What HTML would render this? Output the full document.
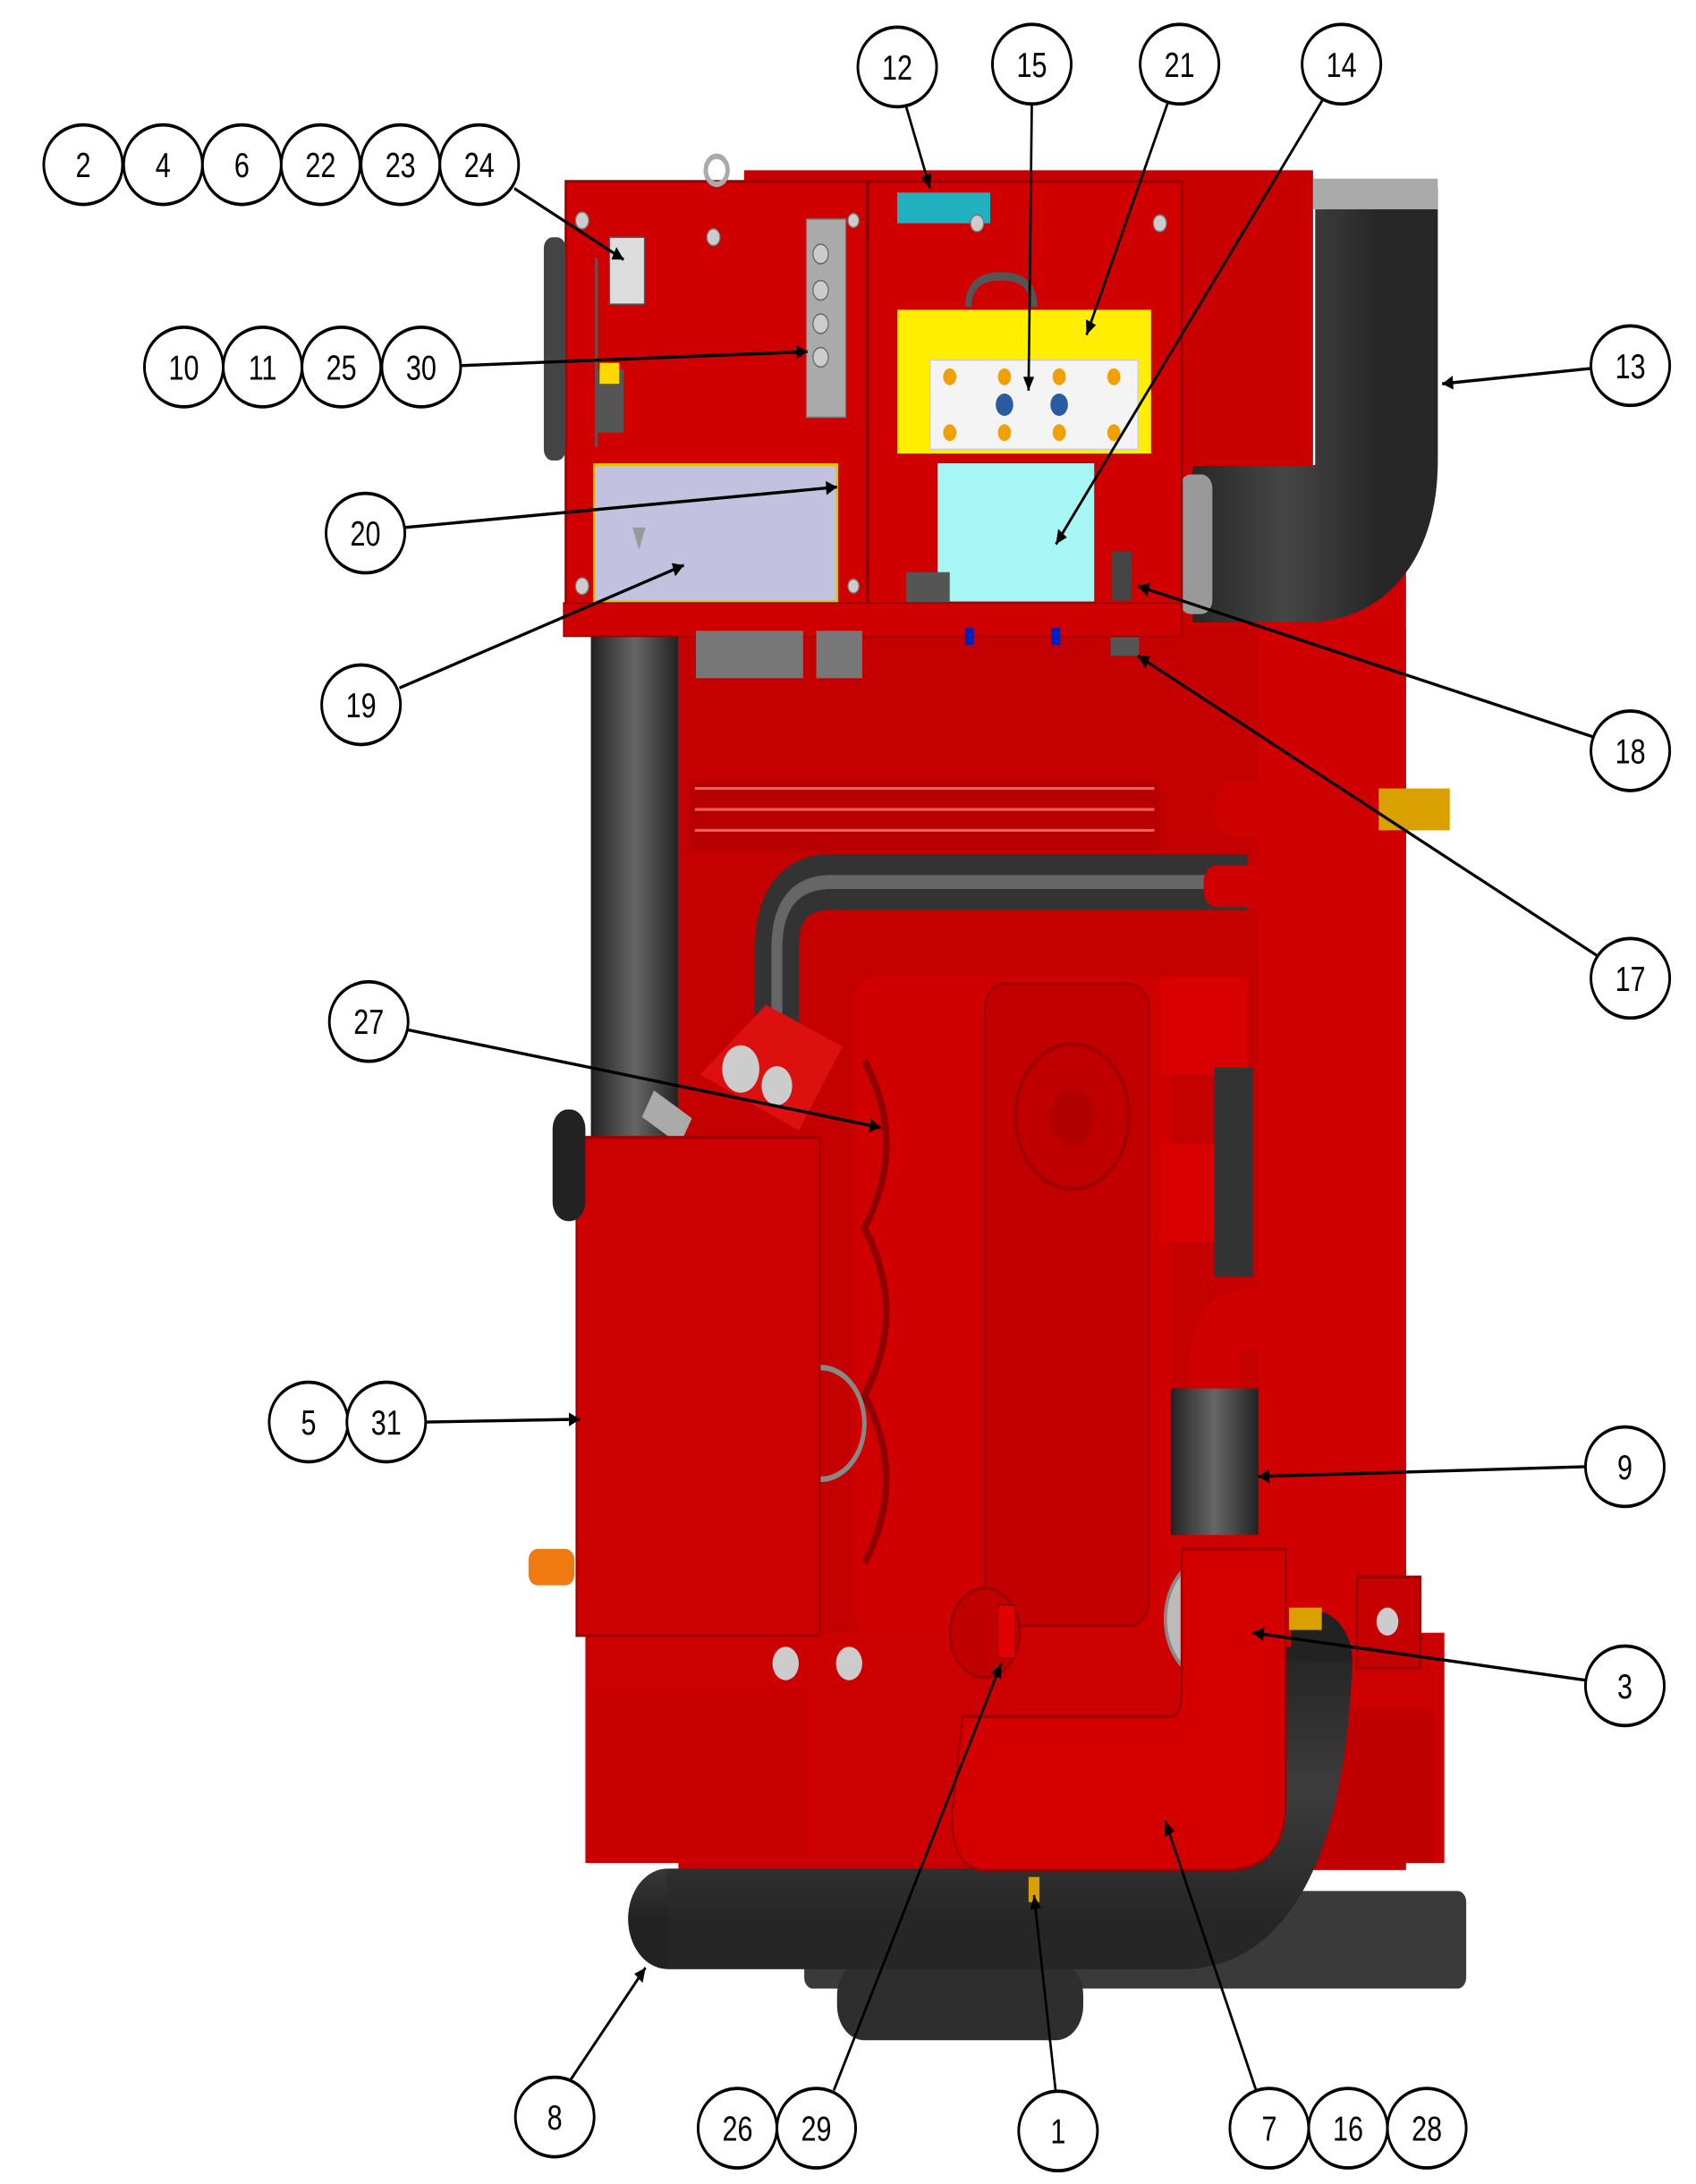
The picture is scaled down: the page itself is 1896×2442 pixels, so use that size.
<!DOCTYPE html>
<html><head><meta charset="utf-8"><style>
html,body{margin:0;padding:0;background:#fff;}
svg{display:block;}
text{font-family:"Liberation Sans",sans-serif;font-size:25px;fill:#000;text-anchor:middle;}
</style></head><body>
<svg width="1896" height="2442" viewBox="0 0 1550 1565" preserveAspectRatio="none" xmlns="http://www.w3.org/2000/svg">
<defs>
<marker id="ar" viewBox="0 0 10 10" refX="10" refY="5" markerWidth="14" markerHeight="10" orient="auto" markerUnits="userSpaceOnUse"><path d="M0,0 L10,5 L0,10 z" fill="#000"/></marker>
<linearGradient id="hose" x1="0" x2="1"><stop offset="0" stop-color="#222"/><stop offset="0.5" stop-color="#666"/><stop offset="1" stop-color="#222"/></linearGradient>
<linearGradient id="hoseV" x1="0" x2="0" y1="0" y2="1"><stop offset="0" stop-color="#222"/><stop offset="0.5" stop-color="#5a5a5a"/><stop offset="1" stop-color="#222"/></linearGradient>
</defs>

<!-- background red masses -->
<rect x="680" y="122" width="520" height="330" fill="#c80000"/>
<rect x="620" y="450" width="665" height="890" fill="#c40000"/>
<rect x="1150" y="380" width="135" height="790" rx="30" fill="#d10000"/>
<rect x="535" y="1170" width="785" height="165" fill="#cc0000"/>
<rect x="1200" y="1225" width="110" height="110" fill="#c00000"/>
<rect x="630" y="560" width="430" height="50" fill="#b80000"/>
<path d="M635,565 h420 M635,580 h420 M635,595 h420" stroke="#f06060" stroke-width="2"/>

<!-- bottom dark pieces -->
<rect x="735" y="1355" width="605" height="70" rx="8" fill="#3a3a3a"/>
<rect x="765" y="1405" width="225" height="57" rx="25" fill="#2e2e2e"/>
<path d="M610,1375 H1080 Q1190,1375 1200,1190" fill="none" stroke="url(#hoseV)" stroke-width="72" stroke-linecap="round"/>
<path d="M610,1375 H1080 Q1190,1375 1200,1190" fill="none" stroke="#2a2a2a" stroke-width="72" opacity="0.6"/>

<!-- left vertical hose -->
<rect x="540" y="450" width="80" height="365" fill="url(#hose)"/>
<!-- upper loop hose -->
<path d="M710,760 V680 Q710,632 760,632 H1140" fill="none" stroke="#333" stroke-width="40"/>
<path d="M710,760 V680 Q710,632 760,632 H1140" fill="none" stroke="#666" stroke-width="10"/>
<rect x="1100" y="620" width="68" height="30" rx="12" fill="#d00000"/>

<!-- engine block details -->
<rect x="780" y="700" width="290" height="470" rx="20" fill="#d00000"/>
<rect x="900" y="705" width="150" height="460" rx="18" fill="#c20000" stroke="#a00000" stroke-width="2"/>
<circle cx="980" cy="800" r="52" fill="#c00000" stroke="#a00000" stroke-width="3"/>
<circle cx="980" cy="800" r="20" fill="#b00000"/>
<path d="M1060,700 h80 v70 h-80z M1060,820 h80 v70 h-80z" fill="#d80000"/>
<path d="M790,760 q40,60 0,120 q40,60 0,120 q40,60 0,120" fill="none" stroke="#900000" stroke-width="6"/>
<path d="M640,770 l60,-50 l70,30 l-40,60 z" fill="#dd1010"/>
<circle cx="677" cy="766" r="17" fill="#ccc"/><circle cx="710" cy="778" r="14" fill="#ccc"/>
<rect x="590" y="790" width="40" height="22" fill="#aaa" transform="rotate(30 610 800)"/>
<rect x="1110" y="765" width="35" height="150" fill="#333"/>

<!-- hose 9 and elbow -->
<path d="M1110,1000 V975 Q1110,945 1150,945 H1185" fill="none" stroke="#d00000" stroke-width="45"/>
<rect x="1070" y="995" width="80" height="105" fill="url(#hose)"/>
<rect x="1070" y="1100" width="110" height="80" fill="#d00000"/>
<circle cx="1110" cy="1160" r="45" fill="#bbb" stroke="#888" stroke-width="3"/>
<circle cx="1110" cy="1160" r="22" fill="#ddd" stroke="#999" stroke-width="2"/>
<rect x="1178" y="1152" width="30" height="16" fill="#d9a000"/>
<rect x="1240" y="1130" width="58" height="65" fill="#c60000" stroke="#900" stroke-width="2"/>
<circle cx="1268" cy="1162" r="10" fill="#ccc"/>
<!-- cover 7 -->
<path d="M880,1230 H1070 Q1080,1230 1080,1210 V1110 H1175 V1290 Q1175,1340 1120,1340 H900 Q870,1340 870,1300 Z" fill="#d40000" stroke="#a00000" stroke-width="2"/>
<circle cx="900" cy="1170" r="32" fill="#c00000" stroke="#900" stroke-width="2"/>
<rect x="912" y="1150" width="16" height="38" fill="#e00000" stroke="#800" stroke-width="1"/>
<rect x="940" y="1345" width="10" height="18" fill="#d9a000"/>

<!-- exhaust box 5 -->
<rect x="527" y="815" width="222" height="357" fill="#cc0000" stroke="#a00000" stroke-width="2"/>
<rect x="505" y="795" width="30" height="80" rx="14" fill="#222"/>
<rect x="483" y="1110" width="42" height="26" rx="8" fill="#f07a10"/>
<rect x="540" y="1210" width="200" height="120" fill="#c80000"/>
<circle cx="718" cy="1192" r="12" fill="#ccc"/><circle cx="776" cy="1192" r="12" fill="#ccc"/>
<path d="M750,980 a40,40 0 0,1 40,40 a40,40 0 0,1 -40,40" fill="none" stroke="#888" stroke-width="4"/>

<!-- right big hose 13 -->
<path d="M1258,135 V330 Q1258,390 1190,390 H1090" fill="none" stroke="url(#hose)" stroke-width="112"/>
<path d="M1258,135 V330 Q1258,390 1190,390 H1090" fill="none" stroke="#2b2b2b" stroke-width="112" opacity="0.55"/>
<rect x="1200" y="128" width="114" height="22" fill="#aaa"/>
<rect x="1078" y="340" width="30" height="100" rx="10" fill="#999"/>
<rect x="1260" y="565" width="65" height="30" fill="#d9a000"/>
<rect x="1110" y="560" width="150" height="40" rx="18" fill="#cf0000"/>

<!-- control box -->
<rect x="517" y="130" width="563" height="325" fill="#d00000" stroke="#900" stroke-width="2"/>
<line x1="793" y1="130" x2="793" y2="432" stroke="#800" stroke-width="3"/>
<line x1="545" y1="185" x2="545" y2="320" stroke="#555" stroke-width="3"/>
<rect x="497" y="170" width="20" height="160" rx="8" fill="#444"/>
<rect x="545" y="265" width="25" height="45" fill="#555"/>
<rect x="548" y="260" width="18" height="15" fill="#ffd800"/>
<rect x="557" y="170" width="32" height="48" fill="#ddd" stroke="#555"/>
<rect x="737" y="157" width="36" height="142" fill="#aaa" stroke="#777"/>
<circle cx="750" cy="182" r="7" fill="#ccc" stroke="#666"/><circle cx="750" cy="208" r="7" fill="#ccc" stroke="#666"/><circle cx="750" cy="232" r="7" fill="#ccc" stroke="#666"/><circle cx="750" cy="256" r="7" fill="#ccc" stroke="#666"/>
<rect x="543" y="333" width="222" height="98" fill="#c2c2e0" stroke="#e8c000" stroke-width="2"/>
<path d="M578,378 h12 l-6,16 z" fill="#999"/>
<rect x="820" y="222" width="232" height="103" fill="#ffee00"/>
<rect x="850" y="258" width="190" height="64" fill="#f4f4f4" stroke="#ccc"/>
<g fill="#f0a000"><circle cx="868" cy="270" r="6"/><circle cx="918" cy="270" r="6"/><circle cx="968" cy="270" r="6"/><circle cx="1018" cy="270" r="6"/><circle cx="868" cy="310" r="6"/><circle cx="918" cy="310" r="6"/><circle cx="968" cy="310" r="6"/><circle cx="1018" cy="310" r="6"/></g>
<circle cx="918" cy="290" r="8" fill="#2a5aa0"/><circle cx="968" cy="290" r="8" fill="#2a5aa0"/>
<path d="M885,220 q0,-22 30,-22 q30,0 30,22" fill="none" stroke="#555" stroke-width="6"/>
<rect x="820" y="138" width="85" height="22" fill="#20b0c0"/>
<rect x="857" y="332" width="143" height="99" fill="#a6f6f6"/>
<rect x="828" y="410" width="40" height="22" fill="#555"/>
<rect x="1016" y="395" width="18" height="35" fill="#444"/>
<rect x="1015" y="450" width="26" height="20" fill="#555"/>
<rect x="515" y="432" width="565" height="24" fill="#cf0000" stroke="#900" stroke-width="1"/>
<rect x="636" y="452" width="98" height="34" fill="#777"/>
<rect x="746" y="452" width="42" height="34" fill="#777"/>
<rect x="882" y="450" width="8" height="12" fill="#0020c0"/><rect x="961" y="450" width="8" height="12" fill="#0020c0"/>
<g fill="#ccc" stroke="#777"><circle cx="532" cy="158" r="6"/><circle cx="532" cy="420" r="6"/><circle cx="652" cy="170" r="6"/><circle cx="893" cy="160" r="6"/><circle cx="1060" cy="160" r="6"/><circle cx="780" cy="158" r="5"/><circle cx="780" cy="420" r="5"/></g>
<circle cx="655" cy="122" r="10" fill="none" stroke="#aaa" stroke-width="4"/>

<!-- leaders -->
<g stroke="#000" stroke-width="2.2" fill="none" marker-end="url(#ar)">
<line x1="470" y1="135" x2="570" y2="186"/>
<line x1="421" y1="262" x2="738" y2="252"/>
<line x1="828" y1="76" x2="850" y2="135"/>
<line x1="943" y1="74" x2="940" y2="280"/>
<line x1="1068" y1="72" x2="993" y2="240"/>
<line x1="1210" y1="70" x2="965" y2="390"/>
<line x1="1454" y1="264" x2="1318" y2="275"/>
<line x1="370" y1="378" x2="765" y2="349"/>
<line x1="365" y1="493" x2="625" y2="405"/>
<line x1="1456" y1="528" x2="1040" y2="420"/>
<line x1="1462" y1="686" x2="1040" y2="470"/>
<line x1="373" y1="738" x2="805" y2="808"/>
<line x1="389" y1="1019" x2="530" y2="1017"/>
<line x1="1449" y1="1051" x2="1150" y2="1058"/>
<line x1="1449" y1="1204" x2="1145" y2="1170"/>
<line x1="520" y1="1492" x2="590" y2="1410"/>
<line x1="762" y1="1498" x2="915" y2="1192"/>
<line x1="965" y1="1500" x2="945" y2="1358"/>
<line x1="1148" y1="1498" x2="1065" y2="1305"/>
</g>

<!-- callouts -->
<g fill="#fff" stroke="#000" stroke-width="2.4">
<ellipse cx="76" cy="118" rx="36" ry="28.5"/><ellipse cx="149" cy="118" rx="36" ry="28.5"/><ellipse cx="221" cy="118" rx="36" ry="28.5"/><ellipse cx="293" cy="118" rx="36" ry="28.5"/><ellipse cx="366" cy="118" rx="36" ry="28.5"/><ellipse cx="438" cy="118" rx="36" ry="28.5"/>
<ellipse cx="168" cy="263" rx="36" ry="28.5"/><ellipse cx="240" cy="263" rx="36" ry="28.5"/><ellipse cx="312" cy="263" rx="36" ry="28.5"/><ellipse cx="385" cy="263" rx="36" ry="28.5"/>
<ellipse cx="820" cy="48" rx="36" ry="28.5"/><ellipse cx="943" cy="46" rx="36" ry="28.5"/><ellipse cx="1078" cy="46" rx="36" ry="28.5"/><ellipse cx="1226" cy="46" rx="36" ry="28.5"/>
<ellipse cx="1490" cy="262" rx="36" ry="28.5"/><ellipse cx="334" cy="382" rx="36" ry="28.5"/><ellipse cx="330" cy="505" rx="36" ry="28.5"/>
<ellipse cx="1490" cy="538" rx="36" ry="28.5"/><ellipse cx="1490" cy="701" rx="36" ry="28.5"/><ellipse cx="337" cy="732" rx="36" ry="28.5"/>
<ellipse cx="282" cy="1019" rx="36" ry="28.5"/><ellipse cx="353" cy="1019" rx="36" ry="28.5"/>
<ellipse cx="1485" cy="1051" rx="36" ry="28.5"/><ellipse cx="1485" cy="1208" rx="36" ry="28.5"/>
<ellipse cx="507" cy="1517" rx="36" ry="28.5"/><ellipse cx="674" cy="1525" rx="36" ry="28.5"/><ellipse cx="746" cy="1525" rx="36" ry="28.5"/>
<ellipse cx="967" cy="1527" rx="36" ry="28.5"/><ellipse cx="1160" cy="1525" rx="36" ry="28.5"/><ellipse cx="1232" cy="1525" rx="36" ry="28.5"/><ellipse cx="1304" cy="1525" rx="36" ry="28.5"/>
</g>
<g>
<text x="76" y="127">2</text><text x="149" y="127">4</text><text x="221" y="127">6</text><text x="293" y="127">22</text><text x="366" y="127">23</text><text x="438" y="127">24</text>
<text x="168" y="272">10</text><text x="240" y="272">11</text><text x="312" y="272">25</text><text x="385" y="272">30</text>
<text x="820" y="57">12</text><text x="943" y="55">15</text><text x="1078" y="55">21</text><text x="1226" y="55">14</text>
<text x="1490" y="271">13</text><text x="334" y="391">20</text><text x="330" y="514">19</text>
<text x="1490" y="547">18</text><text x="1490" y="710">17</text><text x="337" y="741">27</text>
<text x="282" y="1028">5</text><text x="353" y="1028">31</text>
<text x="1485" y="1060">9</text><text x="1485" y="1217">3</text>
<text x="507" y="1526">8</text><text x="674" y="1534">26</text><text x="746" y="1534">29</text>
<text x="967" y="1536">1</text><text x="1160" y="1534">7</text><text x="1232" y="1534">16</text><text x="1304" y="1534">28</text>
</g>
</svg>
</body></html>
